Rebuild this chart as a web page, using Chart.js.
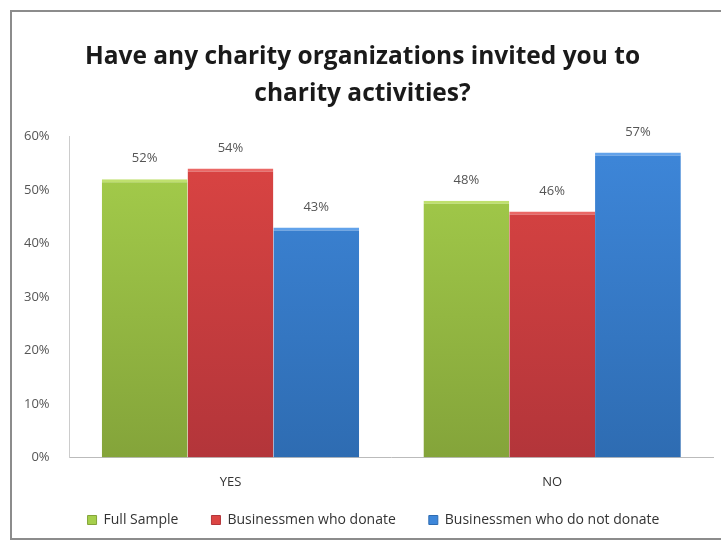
<!DOCTYPE html>
<html>
<head>
<meta charset="utf-8">
<script src="https://cdn.jsdelivr.net/npm/chart.js@4.4.1/dist/chart.umd.min.js"></script>
<style>
  html, body { margin: 0; padding: 0; background: #fff; }
  #wrap { position: absolute; left: 10px; top: 10px; width: 720px; height: 530px; border: 2px solid #8c8c8c; box-sizing: border-box; border-right: none; }
  #holder { position: absolute; left: 0; top: 0; width: 721px; height: 544px; }
</style>
</head>
<body>
<div id="wrap"></div>
<div id="holder"><canvas id="charityChart" width="721" height="544"></canvas></div>
<script>
// chart data
const categories = ['YES', 'NO'];
const seriesNames = ['Full Sample', 'Businessmen who donate', 'Businessmen who do not donate'];
const fullSample = [0.52, 0.48];
const whoDonate = [0.54, 0.46];
const whoDoNotDonate = [0.43, 0.57];
const yTicks = [0, 0.1, 0.2, 0.3, 0.4, 0.5, 0.6];

// top, bottom, top edge highlight
const colors = [
    ['#a6cf4c', '#84a43a', '#bfe06e'],
    ['#dc4543', '#b3353a', '#ea6866'],
    ['#3e87da', '#2e6cb2', '#62a2ea']
];

function barFill(idx) {
    return function(context) {
        const area = context.chart.chartArea;
        if (!area) return colors[idx][0];
        const g = context.chart.ctx.createLinearGradient(0, area.top, 0, area.bottom);
        g.addColorStop(0, colors[idx][0]);
        g.addColorStop(1, colors[idx][1]);
        return g;
    };
}

const valueLabels = {
    id: 'valueLabels',
    afterDatasetsDraw(chart) {
        const ctx = chart.ctx;
        ctx.save();
        ctx.font = '13px "Open Sans", sans-serif';
        ctx.fillStyle = '#555';
        ctx.textAlign = 'center';
        ctx.textBaseline = 'bottom';
        chart.data.datasets.forEach(function(ds, i) {
            chart.getDatasetMeta(i).data.forEach(function(bar, j) {
                ctx.fillText(Math.round(ds.data[j] * 100) + '%', bar.x, bar.y - 14);
            });
        });
        ctx.restore();
    }
};

// keep the wide gaps between legend items but make the legend box shorter
const TRIM = 27;
const SHIFT_X = 11;
const legendTrim = {
    id: 'legendTrim',
    afterInit(chart) {
        const lg = chart.legend;
        const fit = lg.fit;
        const draw = lg.draw;
        lg.fit = function() {
            fit.call(this);
            this.height -= TRIM;
        };
        lg.draw = function() {
            this.top -= TRIM;
            this.left += SHIFT_X;
            this.right += SHIFT_X;
            draw.call(this);
            this.top += TRIM;
            this.left -= SHIFT_X;
            this.right -= SHIFT_X;
        };
    }
};

new Chart(document.getElementById('charityChart'), {
    type: 'bar',
    data: {
        labels: categories,
        datasets: [
            { label: seriesNames[0], data: fullSample, backgroundColor: barFill(0), borderColor: colors[0][2] },
            { label: seriesNames[1], data: whoDonate, backgroundColor: barFill(1), borderColor: colors[1][2] },
            { label: seriesNames[2], data: whoDoNotDonate, backgroundColor: barFill(2), borderColor: colors[2][2] }
        ]
    },
    options: {
        responsive: false,
        animation: false,
        devicePixelRatio: 1,
        layout: { padding: { left: 12, right: 8, top: 39, bottom: 7 } },
        datasets: {
            bar: {
                categoryPercentage: 0.8,
                barPercentage: 1.0,
                borderWidth: { top: 3, left: 0, right: 0, bottom: 0 },
                borderSkipped: 'bottom'
            }
        },
        plugins: {
            title: {
                display: true,
                text: ['Have any charity organizations invited you to', 'charity activities?'],
                color: '#1a1a1a',
                font: { family: '"Open Sans", sans-serif', size: 24.5, weight: 'bold', lineHeight: 1.5 },
                padding: { top: 0, bottom: 24 }
            },
            legend: {
                position: 'bottom',
                labels: {
                    color: '#333',
                    font: { family: '"Open Sans", sans-serif', size: 14 },
                    boxWidth: 9,
                    boxHeight: 9,
                    padding: 33,
                    generateLabels: function(chart) {
                        return chart.data.datasets.map(function(ds, i) {
                            return {
                                text: ds.label,
                                fillStyle: colors[i][0],
                                strokeStyle: colors[i][1],
                                lineWidth: 1,
                                fontColor: '#333',
                                hidden: false,
                                datasetIndex: i
                            };
                        });
                    }
                }
            },
            tooltip: { enabled: false }
        },
        scales: {
            x: {
                grid: { display: false, drawTicks: false },
                border: { color: '#bbb' },
                ticks: { color: '#333', font: { family: '"Open Sans", sans-serif', size: 13 }, padding: 17 }
            },
            y: {
                min: 0,
                max: 0.6,
                afterBuildTicks: function(axis) {
                    axis.ticks = yTicks.map(function(v) { return { value: v }; });
                },
                grid: { display: false },
                border: { color: '#ccc' },
                ticks: {
                    color: '#555',
                    font: { family: '"Open Sans", sans-serif', size: 13 },
                    padding: 12,
                    callback: function(value) { return Math.round(value * 100) + '%'; }
                }
            }
        }
    },
    plugins: [valueLabels, legendTrim]
});
</script>
</body>
</html>
